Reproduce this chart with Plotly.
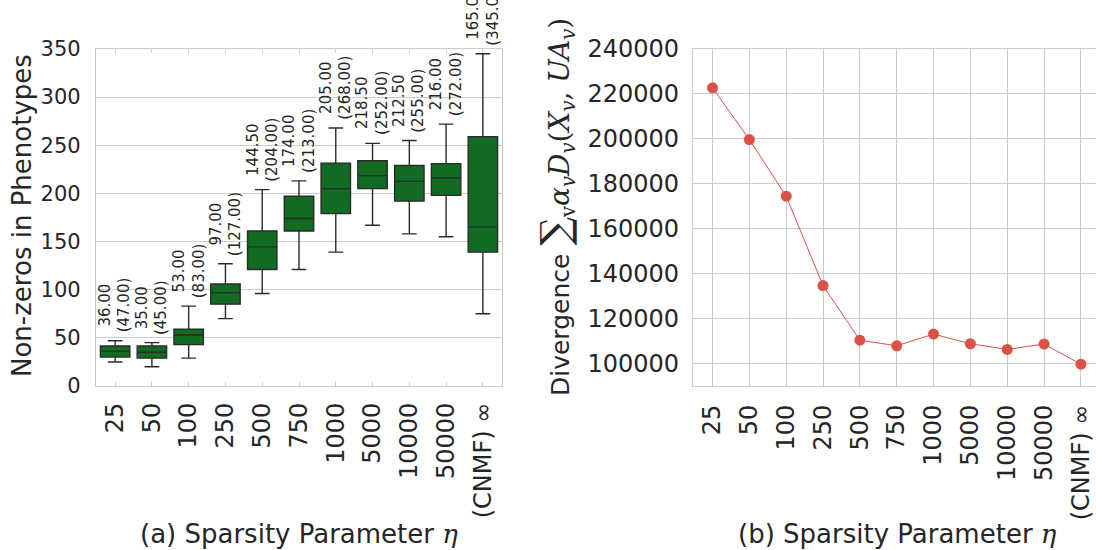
import plotly.graph_objects as go

# ---- data ----
categories = ["25", "50", "100", "250", "500", "750", "1000", "5000", "10000", "50000", "(CNMF) ∞"]
box_upper = [47, 45, 83, 127, 204, 213, 268, 252, 255, 272, 345]
box_q3 = [41.5, 41.5, 59, 106, 161, 197, 231.5, 234, 229, 231, 259]
box_median = [36, 35, 53, 97, 144.5, 174, 205, 218.5, 212.5, 216, 165]
box_q1 = [30, 29, 43, 85, 121, 161, 179, 205, 192, 198, 139]
box_lower = [25, 20, 29, 70, 96, 121, 139, 167, 158, 155, 75]
divergence = [222700, 199700, 174500, 134700, 110400, 107900, 113100, 108800, 106300, 108700, 99700]
left_yticks = [0, 50, 100, 150, 200, 250, 300, 350]
right_yticks = [100000, 120000, 140000, 160000, 180000, 200000, 220000, 240000]

W, H = 1096, 550
FONT = "DejaVu Sans"
TXT = "#262626"
GRID = "#cccccc"
GREEN = "#116b22"
RED = "#db5148"

pos = list(range(len(categories)))

fig = go.Figure()

fig.add_trace(go.Box(
    x=pos, q1=box_q1, median=box_median, q3=box_q3,
    lowerfence=box_lower, upperfence=box_upper,
    width=0.8, whiskerwidth=0.5,
    fillcolor=GREEN, line=dict(color="#2b2b2b", width=1.4),
    boxpoints=False, showlegend=False, hoverinfo="skip",
    xaxis="x", yaxis="y",
))

fig.add_trace(go.Scatter(
    x=pos, y=divergence, mode="lines+markers",
    line=dict(color=RED, width=1),
    marker=dict(color=RED, size=11),
    showlegend=False, xaxis="x2", yaxis="y2",
))

def px_x(p):
    return p / W

def px_y(p):
    return (H - p) / H

ydom = [px_y(386), px_y(49)]

axis_common = dict(
    showline=True, mirror=True, linecolor=GRID, linewidth=1.2,
    automargin=False, zeroline=False,
)

fig.update_layout(
    width=W, height=H,
    margin=dict(l=0, r=0, t=0, b=0),
    paper_bgcolor="white", plot_bgcolor="white",
    font=dict(family=FONT, color=TXT),
    xaxis=dict(
        domain=[px_x(96), px_x(502)], range=[-0.52, 10.52],
        tickmode="array", tickvals=pos, ticktext=categories,
        tickangle=-90, tickfont=dict(size=24, family=FONT, color=TXT),
        showgrid=False, ticks="inside", ticklen=4, tickcolor=GRID,
        **{**axis_common, "mirror": "allticks"},
        ticklabelstandoff=6,
    ),
    yaxis=dict(
        domain=ydom, range=[0, 350],
        tickmode="array", tickvals=left_yticks,
        tickfont=dict(size=21, family=FONT, color=TXT),
        showgrid=True, gridcolor=GRID, gridwidth=1.3,
        ticklabelstandoff=10,
        **axis_common,
    ),
    xaxis2=dict(
        domain=[px_x(693), 1.0], range=[-0.53, 10.41],
        tickmode="array", tickvals=pos, ticktext=categories,
        tickangle=-90, tickfont=dict(size=24, family=FONT, color=TXT),
        showgrid=True, gridcolor=GRID, gridwidth=1.3,
        anchor="y2", ticklabelstandoff=8,
        **axis_common,
    ),
    yaxis2=dict(
        domain=ydom, range=[90000, 240000],
        tickmode="array", tickvals=right_yticks,
        ticktext=[str(v) for v in right_yticks],
        tickfont=dict(size=24, family=FONT, color=TXT),
        showgrid=True, gridcolor=GRID, gridwidth=1.3,
        anchor="x2", ticklabelstandoff=8,
        **axis_common,
    ),
)

# value annotations above boxes
for i in pos:
    fig.add_annotation(
        x=i, y=box_upper[i], xref="x", yref="y",
        text=f"{box_median[i]:.2f}<br>({box_upper[i]:.2f})",
        textangle=-90, showarrow=False, align="center",
        xanchor="center", yanchor="bottom", yshift=6,
        font=dict(size=15, family=FONT, color=TXT),
    )

ETA = "<span style='font-family:DejaVu Serif'><i>η</i></span>"
title_common = dict(xref="paper", yref="paper", showarrow=False,
                    xanchor="center", yanchor="middle")
fig.add_annotation(
    x=px_x(22), y=px_y(216),
    text="Non-zeros in Phenotypes", textangle=-90,
    font=dict(size=26, family=FONT, color=TXT), **title_common,
)
fig.add_annotation(
    x=px_x(299), y=px_y(534),
    text="(a) Sparsity Parameter " + ETA,
    font=dict(size=26, family=FONT, color=TXT), **title_common,
)
fig.add_annotation(
    x=px_x(897), y=px_y(534),
    text="(b) Sparsity Parameter " + ETA,
    font=dict(size=26, family=FONT, color=TXT), **title_common,
)
MATH = ("<span style='font-family:DejaVu Serif;font-size:28px'>"
        "<span style='font-size:40px'>∑</span><sub>v</sub>"
        "<i>α<sub>v</sub>D<sub>v</sub></i>(<i>X<sub>v</sub></i>, <i>UA<sub>v</sub></i>)</span>")
fig.add_annotation(
    x=px_x(556), y=px_y(207),
    text="Divergence " + MATH, textangle=-90,
    font=dict(size=25, family=FONT, color=TXT), **title_common,
)

fig.write_html("out.html", config={"displayModeBar": False},
               post_script="document.body.style.margin='0';")
